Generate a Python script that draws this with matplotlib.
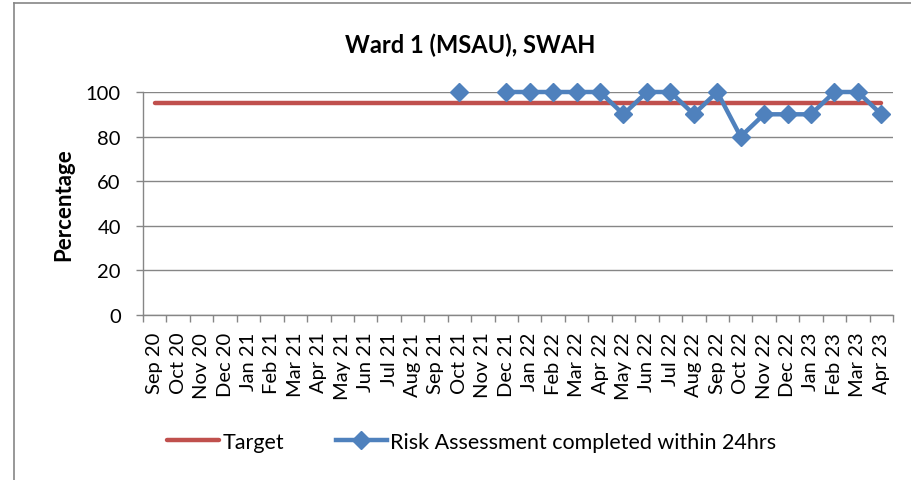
import numpy as np
import matplotlib
matplotlib.use('Agg')
import matplotlib.pyplot as plt
from matplotlib.lines import Line2D

plt.rcParams['font.family'] = ['Lato', 'DejaVu Sans']

# dados do grafico
meses = ['Sep 20', 'Oct 20', 'Nov 20', 'Dec 20', 'Jan 21', 'Feb 21', 'Mar 21', 'Apr 21',
         'May 21', 'Jun 21', 'Jul 21', 'Aug 21', 'Sep 21', 'Oct 21', 'Nov 21', 'Dec 21',
         'Jan 22', 'Feb 22', 'Mar 22', 'Apr 22', 'May 22', 'Jun 22', 'Jul 22', 'Aug 22',
         'Sep 22', 'Oct 22', 'Nov 22', 'Dec 22', 'Jan 23', 'Feb 23', 'Mar 23', 'Apr 23']
target = [95] * len(meses)
risk = [np.nan] * 13 + [100, np.nan, 100, 100, 100, 100, 100, 90, 100, 100, 90,
                        100, 80, 90, 90, 90, 100, 100, 90]

vermelho = '#C0504D'
azul = '#4F81BD'
cinza = '#868686'

fig = plt.figure(figsize=(9.11, 4.81), dpi=100)
ax = fig.add_axes([143 / 911, 1 - 316 / 481, 750 / 911, 223 / 481])

x = np.arange(len(meses))
ax.plot(x, target, color=vermelho, lw=3.2, solid_capstyle='round', label='Target', zorder=3)
ax.plot(x, risk, color=azul, lw=3.2, marker='D', markersize=9.5, clip_on=False,
        label='Risk Assessment completed within 24hrs', zorder=4)

ax.set_xlim(-0.5, len(meses) - 0.5)
ax.set_ylim(0, 100)
ax.set_yticks(range(0, 101, 20))
ax.yaxis.grid(True, color=cinza, lw=1)
ax.set_axisbelow(True)

ax.set_xticks(x)
ax.set_xticklabels(meses, rotation=90)
ax.set_xticks(np.arange(-0.5, len(meses), 1), minor=True)
ax.tick_params(axis='x', which='major', length=0, pad=12, labelsize=14.5)
ax.tick_params(axis='x', which='minor', length=5, color=cinza, width=1)
ax.tick_params(axis='y', length=5, color=cinza, width=1, labelsize=14.5, pad=11)

for s in ['top', 'right']:
    ax.spines[s].set_visible(False)
for s in ['left', 'bottom']:
    ax.spines[s].set_color(cinza)
    ax.spines[s].set_linewidth(1)

ax.set_ylabel('Percentage', fontsize=16, fontweight='bold', labelpad=8)
fig.text(470 / 911, 1 - 45 / 481, 'Ward 1 (MSAU), SWAH', fontsize=17, fontweight='bold',
         ha='center', va='center')

fig.legend(loc='center', bbox_to_anchor=(472 / 911, 1 - 443 / 481), ncol=2, frameon=False,
           fontsize=15.5, handlelength=2.4, handletextpad=0.15, columnspacing=2.4)

# moldura do grafico
fig.add_artist(Line2D([14 / 911, 14 / 911], [0, 1 - 4 / 481], color=cinza, lw=1.2))
fig.add_artist(Line2D([14 / 911, 1], [1 - 4 / 481, 1 - 4 / 481], color=cinza, lw=1.2))

fig.savefig('out.png', dpi=100)
